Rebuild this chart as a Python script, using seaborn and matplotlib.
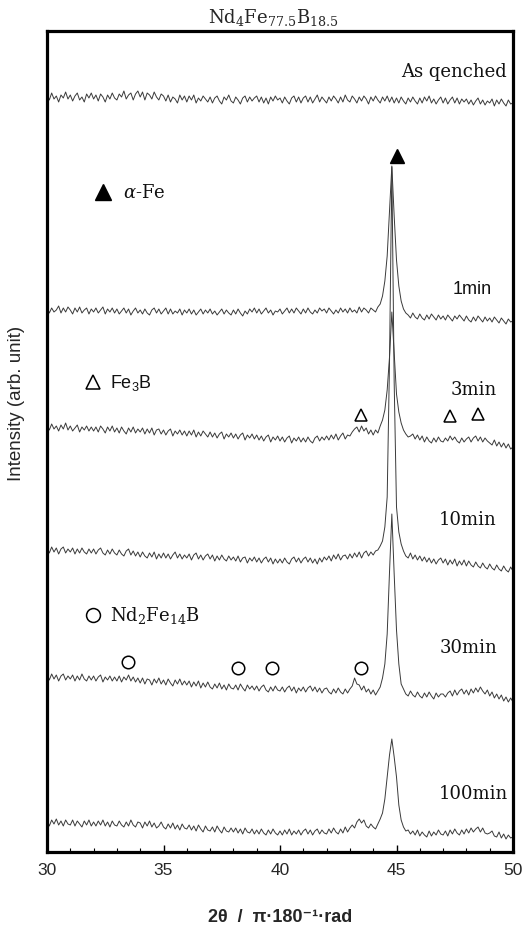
import numpy as np
import pandas as pd
import matplotlib
matplotlib.use("Agg")
import matplotlib.pyplot as plt
from matplotlib.ticker import MultipleLocator
import seaborn as sns

# ---------------- data ----------------
two_theta = np.round(np.arange(300, 501) / 10.0, 1)   # 30.0 ... 50.0 deg, 0.1 step

samples = ["As qenched", "1min", "3min", "10min", "30min", "100min"]
offsets = [740, 530, 410, 290, 160, 15]

as_quenched = [
    18, 12, 19, 13, 16, 10, 17, 14, 20, 13,
    17, 11, 16, 19, 12, 15, 10, 18, 14, 19,
    13, 17, 11, 18, 15, 10, 17, 13, 19, 14,
    12, 18, 15, 21, 13, 17, 19, 12, 18, 21,
    15, 20, 12, 19, 17, 13, 20, 15, 12, 18,
    16, 11, 17, 10, 15, 13, 9, 17, 12, 16,
    10, 16, 12, 17, 9, 14, 11, 16, 13, 10,
    15, 9, 14, 16, 11, 8, 15, 12, 17, 11,
    9, 15, 12, 8, 14, 16, 10, 15, 11, 14,
    16, 10, 15, 9, 14, 8, 15, 11, 16, 12,
    14, 9, 15, 11, 8, 14, 16, 10, 15, 9,
    14, 16, 10, 15, 9, 13, 17, 10, 15, 12,
    9, 15, 11, 16, 13, 9, 15, 10, 17, 12,
    10, 16, 13, 9, 15, 11, 16, 13, 8, 15,
    11, 16, 12, 9, 15, 11, 16, 10, 15, 9,
    14, 9, 15, 11, 8, 14, 10, 15, 11, 8,
    14, 9, 15, 11, 16, 9, 13, 8, 12, 15,
    9, 14, 8, 12, 15, 9, 14, 8, 13, 10,
    13, 8, 12, 7, 11, 14, 8, 12, 7, 11,
    9, 13, 6, 12, 8, 13, 9, 6, 12, 8,
    9]

min1 = [
    15, 9, 14, 10, 12, 16, 9, 14, 10, 15,
    12, 8, 14, 10, 15, 9, 12, 14, 8, 13,
    10, 14, 9, 12, 15, 8, 13, 10, 14, 9,
    13, 8, 11, 14, 9, 13, 7, 11, 14, 9,
    12, 8, 13, 9, 7, 12, 14, 9, 13, 8,
    11, 14, 8, 13, 8, 11, 9, 13, 7, 12,
    9, 13, 8, 12, 7, 10, 13, 8, 12, 9,
    13, 8, 11, 7, 10, 13, 8, 12, 9, 7,
    12, 8, 13, 9, 6, 11, 8, 13, 10, 14,
    9, 13, 8, 11, 14, 9, 12, 7, 11, 10,
    13, 8, 11, 14, 9, 13, 9, 14, 11, 8,
    13, 9, 14, 10, 8, 12, 9, 14, 11, 13,
    9, 14, 11, 8, 12, 9, 14, 10, 13, 9,
    14, 10, 12, 9, 15, 10, 14, 12, 9, 14,
    12, 10, 15, 18, 26, 41, 66, 111, 156, 106,
    62, 36, 21, 13, 9, 7, 4, 9, 5, 3,
    8, 4, 2, 7, 3, 8, 5, 2, 7, 3,
    6, 2, 7, 4, 1, 6, 3, 7, 4, 1,
    6, 2, 0, 5, 1, 6, 3, 0, 5, 1,
    4, 0, 5, 2, -1, 4, 1, -2, 3, 0,
    1]

min3 = [
    17, 12, 18, 13, 16, 11, 17, 13, 19, 12,
    16, 11, 14, 17, 10, 15, 12, 16, 11, 15,
    11, 15, 10, 16, 13, 9, 15, 11, 16, 10,
    14, 9, 15, 11, 8, 14, 10, 15, 9, 13,
    10, 14, 8, 13, 9, 14, 7, 12, 13, 8,
    12, 7, 11, 13, 6, 11, 8, 12, 7, 11,
    6, 11, 7, 12, 5, 10, 6, 11, 8, 5,
    10, 5, 9, 4, 8, 10, 3, 8, 5, 9,
    4, 8, 3, 7, 9, 2, 7, 4, 8, 3,
    7, 2, 6, 1, 5, 7, 0, 5, 2, 6,
    1, 5, 0, 4, 6, -1, 4, 1, 5, 0,
    4, 0, 5, 1, -1, 4, 6, 1, 5, 2,
    6, 2, 7, 3, 8, 2, 6, 9, 3, 7,
    6, 10, 13, 15, 10, 16, 11, 14, 8, 12,
    7, 12, 9, 16, 22, 32, 52, 85, 130, 88,
    48, 30, 19, 12, 8, 5, 6, 8, 3, 7,
    2, 6, 0, 5, 1, -1, 4, 0, 5, 1,
    0, 4, 1, 6, 2, 5, 1, -1, 4, 0,
    3, 5, 0, 4, 6, 1, 5, 0, 4, 1,
    -1, -3, 2, -4, 0, -5, -1, -6, -2, -7,
    -5]

min10 = [
    15, 9, 15, 10, 14, 8, 13, 15, 9, 13,
    10, 14, 8, 13, 9, 14, 10, 8, 13, 9,
    13, 8, 12, 14, 9, 7, 12, 8, 13, 9,
    7, 12, 8, 6, 11, 13, 7, 11, 6, 10,
    5, 10, 6, 4, 9, 5, 10, 3, 8, 4,
    9, 4, 8, 3, 7, 10, 4, 8, 3, 7,
    4, 8, 2, 7, 9, 3, 7, 2, 6, 8,
    3, 7, 1, 6, 2, 7, 3, 1, 6, 2,
    5, 1, 6, 0, 4, 5, -1, 4, 1, 5,
    0, 4, -1, 3, 5, 0, 4, -2, 3, -1,
    3, -1, 4, 0, -2, 3, 5, 0, 4, -1,
    3, 5, 0, 4, -1, 3, -2, 4, 0, 5,
    2, 6, 1, 7, 3, 8, 2, 6, 7, 3,
    8, 4, 9, 5, 10, 4, 9, 11, 6, 10,
    7, 11, 12, 16, 21, 35, 65, 200, 395, 180,
    55, 30, 18, 11, 6, 4, 9, 3, 7, 2,
    6, 1, 5, 0, 4, -1, 3, -2, 2, 4,
    -1, 3, -3, 2, -2, 3, -4, 1, -3, 2,
    -4, 1, -3, -5, 0, -4, -6, -1, -5, -7,
    -2, -6, -8, -3, -7, -9, -4, -8, -10, -5,
    -9]

min30 = [
    18, 12, 18, 13, 17, 11, 16, 18, 12, 16,
    13, 17, 11, 16, 12, 18, 13, 11, 16, 12,
    16, 11, 15, 17, 10, 15, 12, 16, 11, 15,
    11, 16, 10, 15, 12, 17, 11, 15, 10, 14,
    9, 14, 8, 13, 12, 7, 13, 9, 14, 8,
    12, 7, 13, 9, 6, 12, 8, 13, 7, 11,
    7, 11, 5, 10, 6, 11, 4, 9, 5, 10,
    5, 3, 8, 4, 9, 3, 7, 2, 8, 4,
    3, 7, 2, 8, 4, 1, 7, 3, 6, 2,
    6, 1, 5, 7, 2, 0, 5, 1, 6, 2,
    1, 5, 0, 4, 6, 1, 5, -1, 4, 1,
    5, 0, 4, 6, 1, 5, 0, 4, -1, 3,
    4, 0, -2, 3, -1, 4, 0, -2, 3, -1,
    3, 6, 14, 8, 7, 2, 6, 0, 3, -2,
    2, -3, 1, 5, 14, 28, 58, 120, 178, 118,
    62, 28, 8, 3, -2, -4, 1, -3, -5, 0,
    -4, -6, -1, -5, 0, -4, -7, -1, -5, -2,
    -2, -5, -1, 1, -4, 2, -3, 1, 3, -2,
    2, -3, 3, -1, 4, 0, 5, 1, -2, 2,
    -4, 0, -6, -2, -7, -3, -9, -5, -10, -6,
    -10]

min100 = [
    17, 11, 17, 13, 18, 12, 16, 11, 17, 13,
    12, 17, 11, 16, 13, 10, 16, 12, 17, 11,
    15, 11, 16, 12, 17, 11, 15, 10, 16, 12,
    11, 16, 12, 10, 15, 11, 17, 12, 10, 15,
    14, 9, 15, 11, 16, 10, 14, 9, 11, 15,
    10, 8, 13, 9, 14, 8, 12, 7, 13, 9,
    8, 12, 7, 11, 6, 12, 8, 5, 11, 7,
    6, 10, 5, 11, 7, 4, 10, 6, 5, 9,
    5, 9, 4, 8, 3, 9, 5, 4, 8, 3,
    7, 3, 8, 4, 2, 7, 3, 8, 4, 2,
    6, 2, 7, 3, 8, 2, 6, 3, 7, 2,
    6, 8, 3, 7, 2, 6, 8, 3, 7, 4,
    3, 8, 4, 9, 5, 3, 8, 4, 10, 5,
    9, 12, 9, 15, 18, 14, 17, 11, 9, 13,
    10, 8, 13, 18, 24, 38, 60, 82, 98, 80,
    60, 32, 17, 10, 6, 7, 3, 6, 2, 7,
    1, 5, 2, 0, 6, 1, 5, 2, 7, 3,
    2, 6, 1, 7, 3, 8, 4, 2, 7, 3,
    8, 4, 9, 5, 8, 10, 5, 9, 4, 3,
    4, 6, 1, 0, 5, -1, 3, -2, 2, -1,
    0]

traces = [as_quenched, min1, min3, min10, min30, min100]

# sample labels
label_x = [49.74, 49.10, 49.31, 49.31, 49.31, 49.78]
label_y = [781, 564, 463, 333, 205, 59]
label_family = ["DejaVu Serif", "Liberation Sans", "DejaVu Serif",
                "DejaVu Serif", "DejaVu Serif", "DejaVu Serif"]

# phase markers on the patterns
alpha_fe_x = [45.02]
alpha_fe_y = [696]
fe3b_x = [43.48, 47.30, 48.50]
fe3b_y = [437, 436, 438]
nd2fe14b_x = [33.48, 38.20, 39.66, 43.48]
nd2fe14b_y = [190, 184, 184, 184]

# key (legend-like) entries
key_marker_x = [32.40, 31.97, 31.97]
key_marker_y = [660, 470, 237]
key_text_x = [33.26, 32.70, 32.70]
key_text = [r"$\alpha$-Fe", r"Fe$_\mathsf{3}$B", r"Nd$_2$Fe$_{14}$B"]

x_ticks = [30, 35, 40, 45, 50]

# ---------------- style ----------------
sns.set_theme(style="white")
plt.rcParams["font.family"] = ["DejaVu Serif", "DejaVu Sans"]
plt.rcParams["mathtext.fontset"] = "custom"
plt.rcParams["mathtext.rm"] = "DejaVu Serif"
plt.rcParams["mathtext.it"] = "DejaVu Serif:italic"
plt.rcParams["mathtext.sf"] = "Liberation Sans"

assert all(len(t) == len(two_theta) for t in traces)

rows = []
for name, off, vals in zip(samples, offsets, traces):
    for xx, vv in zip(two_theta, vals):
        rows.append((name, xx, vv + off))
df = pd.DataFrame(rows, columns=["sample", "two_theta", "intensity"])

fig = plt.figure(figsize=(5.32, 9.37), dpi=100)
ax = fig.add_axes([47 / 532, 84 / 937, 466 / 532, 821 / 937])

line_color = "#3a3a3a"
sns.lineplot(data=df, x="two_theta", y="intensity", hue="sample",
             palette={s: line_color for s in samples}, estimator=None,
             sort=False, lw=0.7, legend=False, ax=ax)

ax.set_xlim(30, 50)
ax.set_ylim(0, 821)
ax.set_yticks([])
ax.set_xticks(x_ticks)
ax.xaxis.set_minor_locator(MultipleLocator(1))
ax.tick_params(axis="x", which="major", direction="in", length=5, width=1,
               color="black", bottom=True, top=False, pad=7, labelsize=12.5)
ax.tick_params(axis="x", which="minor", direction="in", length=3, width=0.8,
               color="black", bottom=True, top=False)
for lab in ax.get_xticklabels():
    lab.set_family(["Liberation Sans", "DejaVu Sans"])
for sp in ax.spines.values():
    sp.set_visible(True)
    sp.set_linewidth(2.3)
    sp.set_color("black")

# sample labels
for name, lx, ly, fam in zip(samples, label_x, label_y, label_family):
    ax.text(lx, ly, name, ha="right", va="center", fontsize=13,
            family=[fam, "DejaVu Sans"], color="#111111")

# phase markers
ax.plot(alpha_fe_x, alpha_fe_y, ls="none", marker="^", ms=10,
        mfc="black", mec="black")
ax.plot(fe3b_x, fe3b_y, ls="none", marker="^", ms=9,
        mfc="none", mec="black", mew=1.1)
ax.plot(nd2fe14b_x, nd2fe14b_y, ls="none", marker="o", ms=9,
        mfc="none", mec="black", mew=1.1)

# key
key_styles = [dict(marker="^", ms=11, mfc="black", mec="black"),
              dict(marker="^", ms=10, mfc="none", mec="black", mew=1.1),
              dict(marker="o", ms=10, mfc="none", mec="black", mew=1.1)]
key_fams = ["DejaVu Serif", "Liberation Sans", "DejaVu Serif"]
for kx, ky, tx, txt, st, fam in zip(key_marker_x, key_marker_y, key_text_x,
                                    key_text, key_styles, key_fams):
    ax.plot([kx], [ky], ls="none", **st)
    ax.text(tx, ky, txt, ha="left", va="center", fontsize=13,
            family=[fam, "DejaVu Sans"], color="#111111")

# axis labels & title
ax.set_xlabel("2θ  /  π·180⁻¹·rad", fontsize=13, fontweight="bold",
              family=["Liberation Sans", "DejaVu Sans"])
ax.xaxis.set_label_coords(0.5, -0.068)
ax.set_ylabel("Intensity (arb. unit)", fontsize=13.5,
              family=["Liberation Sans", "DejaVu Sans"])
ax.yaxis.set_label_coords(-0.047, 0.547)

fig.text(273 / 532, 1 - 17 / 937, r"Nd$_4$Fe$_{77.5}$B$_{18.5}$",
         ha="center", va="center", fontsize=13, family=["DejaVu Serif"])

fig.savefig("out.png", dpi=100)
